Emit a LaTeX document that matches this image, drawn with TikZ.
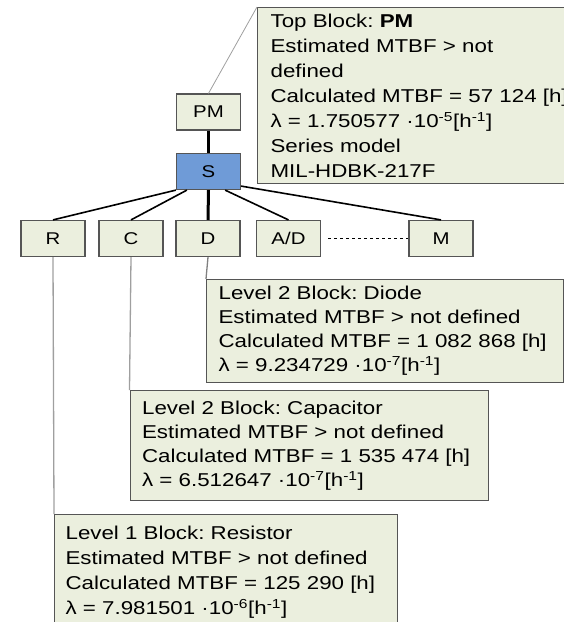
\documentclass[tikz,border=0pt]{standalone}
\usepackage{fontspec}
\setmainfont[FakeStretch=1.2]{Liberation Sans}
\usepackage{tikz}
\usetikzlibrary{positioning}
\definecolor{blockfill}{RGB}{235,239,222}
\definecolor{sysblue}{RGB}{111,155,215}
\definecolor{edgegray}{RGB}{85,85,85}
\frenchspacing

\begin{document}
\begin{tikzpicture}[x=1pt, y=-1pt,
    block/.style={draw=edgegray, fill=blockfill, line width=1.2pt, minimum width=64pt, minimum height=36pt, inner sep=0pt, font=\fontsize{17}{20}\selectfont},
    info/.style={draw=edgegray, fill=blockfill, line width=1.2pt, anchor=north west, align=left, inner ysep=0pt, font=\fontsize{18.6}{25}\selectfont},
    link/.style={draw=gray!75, line width=1.3pt},
    tie/.style={line width=1.6pt}]
    \useasboundingbox (0,0) rectangle (564,622);
    \clip (0,0) rectangle (564,622);

    % Top of the tree
    \node[block] (PM) at (208.5,112) {PM};
    \node[block, fill=sysblue] (S) at (208.5,171.5) {S};

    % Component blocks
    \foreach \n/\x/\t in {R/53/R, C/131/C, D/208/D, AD/288.5/{A/D}, M/441/M} {
      \node[block] (\n) at (\x,238.5) {\t};
    }

    % Tree connectors
    \draw[line width=3pt] (PM.south) -- (S.north);
    \draw[tie] (S.south west) -- (R.north);
    \draw[tie] ([xshift=11pt]S.south west) -- (C.north);
    \draw[line width=3pt] (S.south) -- (D.north);
    \draw[tie] ([xshift=-16pt]S.south east) -- (AD.north);
    \draw[tie] ([yshift=4pt]S.south east) -- (M.north);
    \draw[dashed, line width=0.9pt, shorten <=7pt] (AD.east) -- (M.west);

    % Info boxes
    \node[info, inner xsep=13pt, text width=330pt, minimum height=176pt] (topinfo) at (257,7)
      {Top Block: \textbf{PM}\\Estimated MTBF > not\\defined\\Calculated MTBF = 57 124 [h]\\λ = 1.750577 ·10\textsuperscript{-5}[h\textsuperscript{-1}]\\Series model\\MIL-HDBK-217F};
    \node[info, inner xsep=12pt, text width=333pt, minimum height=103pt, font=\fontsize{18.6}{24}\selectfont] (dinfo) at (206,279)
      {Level 2 Block: Diode\\Estimated MTBF > not defined\\Calculated MTBF = 1 082 868 [h]\\λ = 9.234729 ·10\textsuperscript{-7}[h\textsuperscript{-1}]};
    \node[info, inner xsep=12pt, text width=334pt, minimum height=110pt, font=\fontsize{18.6}{24}\selectfont] (cinfo) at (129.5,390)
      {Level 2 Block: Capacitor\\Estimated MTBF > not defined\\Calculated MTBF = 1 535 474 [h]\\λ = 6.512647 ·10\textsuperscript{-7}[h\textsuperscript{-1}]};
    \node[info, inner xsep=11pt, text width=321pt, minimum height=115pt] (rinfo) at (54,514)
      {Level 1 Block: Resistor\\Estimated MTBF > not defined\\Calculated MTBF = 125 290 [h]\\λ = 7.981501 ·10\textsuperscript{-6}[h\textsuperscript{-1}]};

    % Info links
    \draw[link, line width=0.8pt] (PM.north) -- (topinfo.north west);
    \draw[link] (R.south) -- (rinfo.north west);
    \draw[link] (C.south) -- (cinfo.north west);
    \draw[link, draw=gray] (D.south) -- (dinfo.north west);
\end{tikzpicture}
\end{document}
